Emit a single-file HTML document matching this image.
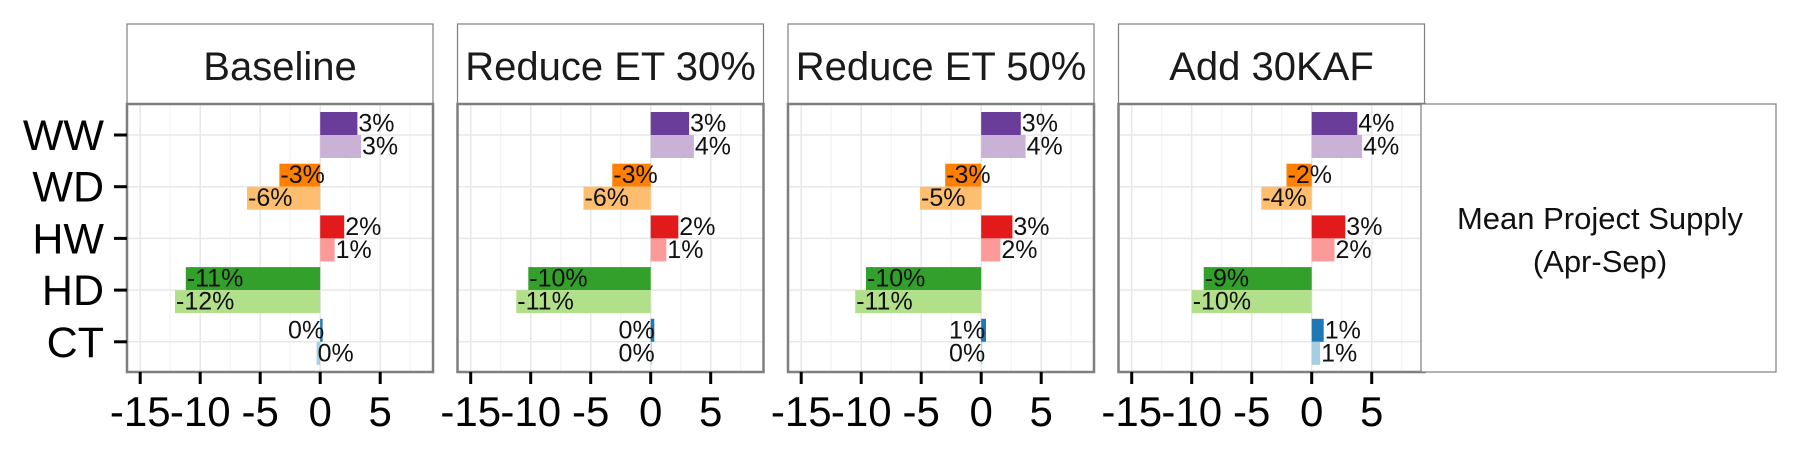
<!DOCTYPE html>
<html><head><meta charset="utf-8"><style>
html,body{margin:0;padding:0;background:#fff;}
svg{display:block;font-family:"Liberation Sans",sans-serif;}
</style></head><body>
<svg id="chart" width="1800" height="450"></svg>
<script>
const panels = ["Baseline","Reduce ET 30%","Reduce ET 50%","Add 30KAF"];
const categories = ["WW","WD","HW","HD","CT"];
const xTicks = [-15,-10,-5,0,5];
const xMinor = [-12.5,-7.5,-2.5,2.5,7.5];
const darkVals = [
  [3.1,-3.4,2.0,-11.2,0.2],
  [3.2,-3.2,2.3,-10.2,0.3],
  [3.3,-3.0,2.6,-9.6,0.4],
  [3.8,-2.1,2.8,-9.0,1.0]
];
const lightVals = [
  [3.4,-6.1,1.2,-12.1,-0.3],
  [3.6,-5.6,1.3,-11.2,0.1],
  [3.7,-5.1,1.6,-10.5,0.1],
  [4.2,-4.2,1.9,-10.0,0.7]
];
const darkLabels = [
  ["3%","-3%","2%","-11%","0%"],
  ["3%","-3%","2%","-10%","0%"],
  ["3%","-3%","3%","-10%","1%"],
  ["4%","-2%","3%","-9%","1%"]
];
const lightLabels = [
  ["3%","-6%","1%","-12%","0%"],
  ["4%","-6%","1%","-11%","0%"],
  ["4%","-5%","2%","-11%","0%"],
  ["4%","-4%","2%","-10%","1%"]
];
const darkColors = ["#6a3d9a","#ff7f00","#e31a1c","#33a02c","#1f78b4"];
const lightColors = ["#cab2d6","#fdbf6f","#fb9a99","#b2df8a","#a6cee3"];

const NS="http://www.w3.org/2000/svg";
const svg=document.getElementById('chart');
function mk(tag,attrs,parent){const e=document.createElementNS(NS,tag);for(const k in attrs)e.setAttribute(k,attrs[k]);(parent||svg).appendChild(e);return e;}

const panelLeft0=127, panelW=306, panelStep=330.5;
const stripTop=24, plotTop=104, plotBot=372;
const xMin=-16.1, xMax=9.4;
const catY0=135, catStep=51.7, barH=23;
function yCat(i){return catY0+i*catStep;}

panels.forEach((p,pi)=>{
  const L=panelLeft0+pi*panelStep, R=L+panelW;
  const xs=v=>L+(v-xMin)/(xMax-xMin)*panelW;
  const g=mk('g',{});
  
  
  const st=mk('rect',{x:L,y:stripTop,width:panelW,height:plotTop-stripTop,fill:'#fff',stroke:'#7f7f7f','stroke-width':1.2},g);
  
  
  const stt=mk('text',{x:L+panelW/2,y:80,'text-anchor':'middle','font-size':40,fill:'#1a1a1a'},g);
  stt.textContent=p;
  
  
  mk('rect',{x:L,y:plotTop,width:panelW,height:plotBot-plotTop,fill:'#fff'},g);
  xMinor.forEach(v=>{const gl=mk('line',{x1:xs(v),x2:xs(v),y1:plotTop,y2:plotBot,stroke:'#f5f5f5','stroke-width':1.5},g);
    });
  xTicks.forEach(v=>{const gl=mk('line',{x1:xs(v),x2:xs(v),y1:plotTop,y2:plotBot,stroke:'#e8e8e8','stroke-width':1.5},g);
    });
  categories.forEach((c,ci)=>{const gl=mk('line',{x1:L,x2:R,y1:yCat(ci),y2:yCat(ci),stroke:'#e8e8e8','stroke-width':1.5},g);
    });
  categories.forEach((c,ci)=>{
    [[darkVals,darkColors,darkLabels,-barH],[lightVals,lightColors,lightLabels,0]].forEach(([vals,cols,labs,off],k)=>{
      const v=vals[pi][ci];
      const x0=Math.min(xs(0),xs(v)), w=Math.abs(xs(v)-xs(0));
      const y=yCat(ci)+off;
      const b=mk('rect',{x:x0,y:y,width:Math.max(w,1),height:barH,fill:cols[ci]},g);
      
      
      const t=mk('text',{y:y+barH/2+8,'font-size':25,fill:'#111'},g);
      if(v>=0.5){t.setAttribute('x',xs(v)+1);t.setAttribute('text-anchor','start');}
      else if(v>=0){t.setAttribute('x',xs(0)+4);t.setAttribute('text-anchor','end');}
      else {t.setAttribute('x',xs(v)+1);t.setAttribute('text-anchor','start');}
      t.textContent=labs[pi][ci];
      
      
    });
  });
  const bd=mk('rect',{x:L,y:plotTop,width:panelW,height:plotBot-plotTop,fill:'none',stroke:'#7f7f7f','stroke-width':2.5},g);
  
  
  xTicks.forEach(v=>{
    const tk=mk('line',{x1:xs(v),x2:xs(v),y1:plotBot,y2:plotBot+12,stroke:'#000','stroke-width':3},g);
    
    const tl=mk('text',{x:xs(v),y:426,'text-anchor':'middle','font-size':42,fill:'#000'},g);
    tl.textContent=v;
    
  });
});
categories.forEach((c,ci)=>{
  const tk=mk('line',{x1:114,x2:127,y1:yCat(ci),y2:yCat(ci),stroke:'#000','stroke-width':3});
  
  const tl=mk('text',{x:104,y:yCat(ci)+15,'text-anchor':'end','font-size':43,fill:'#000'});
  tl.textContent=c;
  
});
const lb=mk('rect',{x:1421,y:104,width:355,height:268,fill:'#fff',stroke:'#7f7f7f','stroke-width':1.2});


const l1=mk('text',{x:1600,y:229,'text-anchor':'middle','font-size':31,fill:'#111'});
l1.textContent='Mean Project Supply';

const l2=mk('text',{x:1600,y:272,'text-anchor':'middle','font-size':31,fill:'#111'});
l2.textContent='(Apr-Sep)';

</script>
</body></html>
